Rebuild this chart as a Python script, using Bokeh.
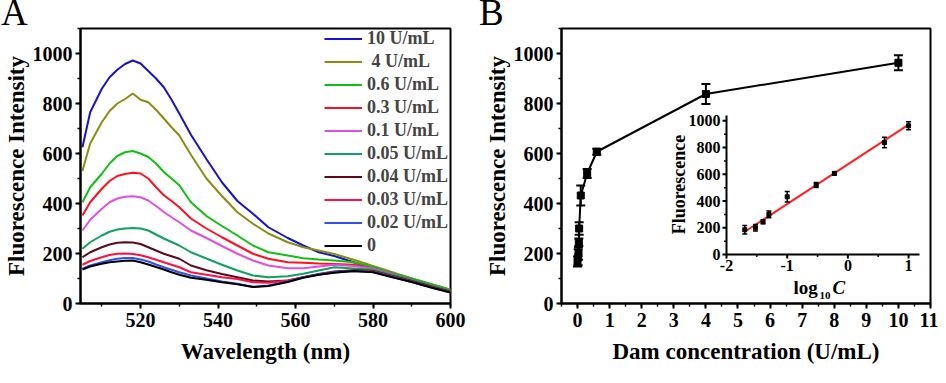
import numpy as np
from bokeh.plotting import figure
from bokeh.layouts import row, column
from bokeh.models import Range1d, SingleIntervalTicker, Legend, LegendItem, Label, Div
from bokeh.core.properties import value
from bokeh.embed import file_html
from bokeh.resources import INLINE

# ---------------- data: panel A (spectra) ----------------
wavelength = [505, 507, 510, 512, 514, 516, 518, 520, 522, 524, 526, 528, 530, 533, 537, 541, 545, 549,
              553, 558, 562, 566, 570, 575, 580, 585, 590, 595, 600]
spec_10  = [625, 765, 859, 905, 935, 958, 972, 960, 930, 900, 865, 815, 760, 675, 578, 485, 410, 359,
            305, 262, 232, 205, 190, 165, 140, 118, 95, 72, 50]
spec_4   = [530, 640, 725, 770, 800, 818, 840, 815, 805, 775, 740, 705, 672, 595, 500, 430, 365, 319,
            280, 245, 225, 212, 198, 175, 150, 125, 100, 78, 55]
spec_06  = [405, 465, 519, 560, 590, 605, 610, 600, 586, 560, 526, 500, 473, 405, 350, 310, 272, 232,
            205, 192, 181, 176, 172, 165, 145, 122, 100, 77, 55]
spec_03  = [352, 405, 459, 490, 510, 518, 523, 520, 500, 465, 433, 410, 385, 340, 300, 265, 232, 199,
            179, 165, 163, 160, 158, 155, 140, 118, 95, 72, 50]
spec_01  = [292, 335, 379, 405, 420, 427, 429, 425, 412, 390, 366, 345, 325, 292, 262, 230, 199, 172,
            152, 141, 141, 148, 155, 150, 140, 118, 95, 72, 50]
spec_005 = [219, 245, 272, 287, 296, 300, 302, 300, 292, 276, 260, 246, 232, 205, 180, 155, 132, 112,
            105, 109, 119, 132, 145, 140, 135, 115, 95, 72, 50]
spec_004 = [185, 205, 225, 236, 243, 245, 244, 238, 225, 212, 199, 189, 179, 152, 133, 118, 105, 92,
            88, 92, 105, 118, 128, 133, 130, 110, 90, 68, 47]
spec_003 = [155, 170, 185, 194, 199, 200, 198, 193, 185, 175, 165, 155, 145, 125, 115, 105, 98, 85,
            83, 92, 105, 116, 125, 130, 128, 108, 88, 66, 46]
spec_002 = [139, 152, 165, 173, 179, 182, 182, 176, 168, 156, 145, 135, 125, 112, 100, 88, 79, 67,
            72, 88, 105, 116, 125, 130, 126, 106, 86, 64, 44]
spec_0   = [136, 148, 159, 165, 168, 171, 172, 165, 156, 146, 136, 125, 115, 103, 95, 85, 77, 66,
            70, 86, 103, 115, 123, 130, 125, 105, 86, 64, 44]

spectra = [spec_10, spec_4, spec_06, spec_03, spec_01, spec_005, spec_004, spec_003, spec_002, spec_0]
spec_labels = ["10 U/mL", " 4 U/mL", "0.6 U/mL", "0.3 U/mL", "0.1 U/mL",
               "0.05 U/mL", "0.04 U/mL", "0.03 U/mL", "0.02 U/mL", "0"]
spec_colors = ["#1414c8", "#8c8c10", "#10c010", "#ff1020", "#e050e0",
               "#10a060", "#5a0a1a", "#ff1040", "#3050f0", "#000000"]

# ---------------- data: panel B ----------------
conc      = [0, 0.02, 0.03, 0.04, 0.05, 0.1, 0.3, 0.6, 4, 10]
intensity = [168, 185, 200, 245, 300, 432, 520, 607, 838, 963]
errors    = [20, 32, 25, 15, 25, 40, 18, 12, 40, 30]

fit_slope = 297.0
fit_intercept = 675.0
fit_x = [-1.7, 1.0]

# inset ticks
ins_x_major = [-2, -1, 0, 1]
ins_x_minor = [-1.5, -0.5, 0.5]
ins_y_major = [0, 200, 400, 600, 800, 1000]
ins_y_minor = [100, 300, 500, 700, 900]

panel_letters = ["A", "B"]

FONT = "Liberation Serif"
FRAME_H = 275


def style(p, xlabel, ylabel):
    p.xgrid.visible = False
    p.ygrid.visible = False
    p.outline_line_color = "black"
    p.outline_line_width = 2
    p.background_fill_color = "white"
    p.border_fill_color = "white"
    for ax in (p.xaxis[0], p.yaxis[0]):
        ax.axis_line_width = 2
        ax.axis_line_color = "black"
        ax.major_tick_line_width = 2
        ax.minor_tick_line_width = 1.5
        ax.major_tick_in = 0
        ax.major_tick_out = 5
        ax.minor_tick_in = 0
        ax.minor_tick_out = 3
        ax.major_label_text_font = FONT
        ax.major_label_text_font_style = "bold"
        ax.major_label_text_font_size = "20px"
        ax.major_label_text_color = "black"
        ax.axis_label_text_font = FONT
        ax.axis_label_text_font_style = "bold"
        ax.axis_label_text_font_size = "23px"
        ax.axis_label_text_color = "black"
    p.xaxis[0].axis_label = xlabel
    p.yaxis[0].axis_label = ylabel
    p.xaxis[0].major_label_standoff = 4
    p.xaxis[0].axis_label_standoff = 9
    p.yaxis[0].major_label_standoff = 3
    p.yaxis[0].axis_label_standoff = 1


# ---------------- header strip with the panel letters (HTML text) ----------------
HEAD_W, HEAD_H = 930, 25
letter_left = [1, 479]
spans = "".join(
    f'<span style="position:absolute; left:{lx}px; top:0px; height:{HEAD_H}px; '
    f'line-height:{HEAD_H}px; display:block;">{t}</span>'
    for t, lx in zip(panel_letters, letter_left))
head = Div(text=(f'<div style="position:relative; width:{HEAD_W}px; height:{HEAD_H}px; '
                 f"font-family:'{FONT}'; font-size:37px; color:black; overflow:visible;\">"
                 f"{spans}</div>"),
           width=HEAD_W, height=HEAD_H, margin=(0, 0, 0, 0))

# ---------------- panel A ----------------
pA = figure(frame_width=370, frame_height=FRAME_H,
            x_range=Range1d(504.5, 600), y_range=Range1d(0, 1100),
            output_backend="svg", toolbar_location=None,
            min_border_left=70, min_border_right=18,
            min_border_top=0, min_border_bottom=67)
style(pA, "Wavelength (nm)", "Fluorescence Intensity")
pA.xaxis[0].ticker = SingleIntervalTicker(interval=20, num_minor_ticks=2)
pA.yaxis[0].ticker = SingleIntervalTicker(interval=200, num_minor_ticks=2)

items = []
for s, lab, col in zip(spectra, spec_labels, spec_colors):
    r = pA.line(wavelength, s, line_color=col, line_width=2)
    items.append(LegendItem(label=lab, renderers=[r]))

legend = Legend(items=items, location=(244, 47),
                label_text_font=FONT, label_text_font_style="bold",
                label_text_font_size="18px", glyph_width=38, glyph_height=21,
                label_height=21, spacing=2, padding=0, margin=0,
                label_standoff=5, border_line_alpha=0, background_fill_alpha=0)
pA.add_layout(legend)

# ---------------- panel B ----------------
FRAME_W_B = 369
pB = figure(frame_width=FRAME_W_B, frame_height=FRAME_H,
            x_range=Range1d(-0.5, 11), y_range=Range1d(0, 1100),
            output_backend="svg", toolbar_location=None,
            min_border_left=93, min_border_right=8,
            min_border_top=3, min_border_bottom=64)
style(pB, "Dam concentration (U/mL)", "Fluorescence Intensity")
pB.xaxis[0].ticker = SingleIntervalTicker(interval=1, num_minor_ticks=2)
pB.yaxis[0].ticker = SingleIntervalTicker(interval=200, num_minor_ticks=2)

c = np.array(conc, dtype=float)
v = np.array(intensity, dtype=float)
e = np.array(errors, dtype=float)

pB.line(c, v, line_color="black", line_width=2)
pB.segment(x0=c, y0=v - e, x1=c, y1=v + e, line_color="black", line_width=2)
pB.scatter(np.concatenate([c, c]), np.concatenate([v - e, v + e]), marker="dash",
           size=9, line_color="black", line_width=2)
pB.scatter(c, v, marker="square", size=7, fill_color="black", line_color="black")

# ---- inset (drawn in the same frame via extra ranges) ----
INS_L, INS_B, INS_W, INS_H = 165, 49, 193, 139
ins_x = (-2.0, 1.18)
ins_y = (0.0, 1040.0)
kx = INS_W / (ins_x[1] - ins_x[0])
ky = INS_H / (ins_y[1] - ins_y[0])
ixs = ins_x[0] - INS_L / kx
iys = ins_y[0] - INS_B / ky
pB.extra_x_ranges = {"ix": Range1d(ixs, ixs + FRAME_W_B / kx)}
pB.extra_y_ranges = {"iy": Range1d(iys, iys + FRAME_H / ky)}
R = dict(x_range_name="ix", y_range_name="iy")

pB.segment(x0=[ins_x[0], ins_x[0]], y0=[ins_y[0], ins_y[0]],
           x1=[ins_x[1], ins_x[0]], y1=[ins_y[0], ins_y[1]],
           line_color="black", line_width=2, **R)
pB.ray(x=ins_x_major, y=[ins_y[0]] * len(ins_x_major), length=4, length_units="screen",
       angle=-np.pi / 2, line_color="black", line_width=2, **R)
pB.ray(x=ins_x_minor, y=[ins_y[0]] * len(ins_x_minor), length=2.5, length_units="screen",
       angle=-np.pi / 2, line_color="black", line_width=1.5, **R)
pB.ray(x=[ins_x[0]] * len(ins_y_major), y=ins_y_major, length=4, length_units="screen",
       angle=np.pi, line_color="black", line_width=2, **R)
pB.ray(x=[ins_x[0]] * len(ins_y_minor), y=ins_y_minor, length=2.5, length_units="screen",
       angle=np.pi, line_color="black", line_width=1.5, **R)
pB.text(x=ins_x_major, y=[ins_y[0]] * len(ins_x_major),
        text=[str(t) for t in ins_x_major], y_offset=5,
        text_align="center", text_baseline="top", text_font=value(FONT),
        text_font_style="bold", text_font_size="16px", text_color="black", **R)
pB.text(x=[ins_x[0]] * len(ins_y_major), y=ins_y_major,
        text=[str(t) for t in ins_y_major], x_offset=-6,
        text_align="right", text_baseline="middle", text_font=value(FONT),
        text_font_style="bold", text_font_size="16px", text_color="black", **R)

lc = np.log10(c[1:])
lv = v[1:]
le = e[1:]
fx = np.array(fit_x)
pB.line(fx, fit_slope * fx + fit_intercept, line_color="#ff2020", line_width=2, **R)
pB.segment(x0=lc, y0=lv - le, x1=lc, y1=lv + le, line_color="black", line_width=1.5, **R)
pB.scatter(np.concatenate([lc, lc]), np.concatenate([lv - le, lv + le]), marker="dash",
           size=5, line_color="black", line_width=1.5, **R)
pB.scatter(lc, lv, marker="square", size=4, fill_color="black", line_color="black", **R)

pB.add_layout(Label(x=117, y=119, x_units="screen", y_units="screen", angle=np.pi / 2,
                    text="Fluorescence", text_font=FONT, text_font_style="bold",
                    text_font_size="18px", text_color="black",
                    text_align="center", text_baseline="middle"))
pB.add_layout(Label(x=232, y=16, x_units="screen", y_units="screen",
                    text="log", text_font=FONT, text_font_style="bold",
                    text_font_size="19px", text_color="black", text_baseline="alphabetic"))
pB.add_layout(Label(x=258, y=8, x_units="screen", y_units="screen",
                    text="10", text_font=FONT, text_font_style="bold",
                    text_font_size="11px", text_color="black", text_baseline="alphabetic"))
pB.add_layout(Label(x=271, y=16, x_units="screen", y_units="screen",
                    text="C", text_font=FONT, text_font_style="bold italic",
                    text_font_size="19px", text_color="black", text_baseline="alphabetic"))

layout = column(head, row(pA, pB))
open("out.html", "w").write(file_html(layout, INLINE))
